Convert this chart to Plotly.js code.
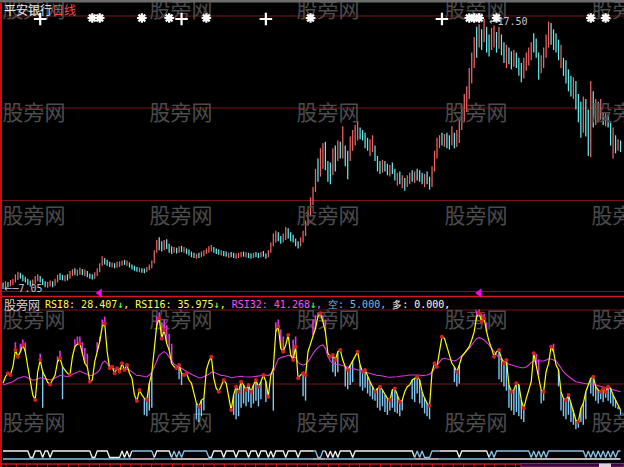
<!DOCTYPE html>
<html><head><meta charset="utf-8">
<script src="https://cdn.plot.ly/plotly-3.0.1.min.js"></script>
<style>html,body{margin:0;padding:0;background:#000;overflow:hidden}#chart{width:624px;height:467px}</style>
</head><body><div id="chart"></div>
<script>
// ---------- data ----------
const lows = [7.05,7.10,7.12,7.15,7.20,7.30,7.40,7.45,7.35,7.30,
 7.20,7.15,7.18,7.25,7.35,7.30,7.20,7.12,7.10,7.15,
 7.12,7.18,7.30,7.40,7.38,7.35,7.38,7.45,7.55,7.58,
 7.55,7.60,7.58,7.55,7.50,7.45,7.42,7.45,7.55,7.70,
 7.95,8.00,7.95,7.90,7.88,7.85,7.88,7.90,7.95,7.98,
 7.95,7.88,7.80,7.75,7.72,7.70,7.68,7.66,7.70,7.78,
 7.85,8.05,8.45,8.55,8.50,8.55,8.60,8.45,8.40,8.45,
 8.42,8.45,8.48,8.45,8.40,8.35,8.28,8.25,8.22,8.25,
 8.28,8.32,8.40,8.45,8.50,8.45,8.40,8.38,8.35,8.32,
 8.30,8.25,8.28,8.25,8.22,8.25,8.28,8.30,8.27,8.25,
 8.22,8.25,8.28,8.25,8.27,8.30,8.22,8.28,8.45,8.70,
 8.85,8.90,8.80,8.85,8.95,9.00,8.90,8.85,8.70,8.62,
 8.70,8.85,9.10,9.50,9.90,10.30,10.80,11.20,11.40,11.70,
 11.65,11.20,11.10,11.45,11.60,12.00,12.10,12.10,11.80,11.30,
 12.00,12.40,12.60,12.80,12.85,12.80,12.50,12.40,12.20,12.35,
 12.00,11.60,11.50,11.55,11.60,11.45,11.40,11.50,11.25,11.05,
 11.10,10.95,10.85,11.00,11.10,11.20,11.15,11.25,11.20,11.10,
 11.00,11.10,10.90,11.00,11.60,12.10,12.50,12.60,12.55,12.50,
 12.45,12.60,12.50,12.55,12.70,13.20,13.50,13.90,14.40,15.00,
 15.60,16.00,16.40,16.30,16.60,16.20,16.05,16.30,16.40,16.20,
 16.35,16.10,15.80,15.60,15.75,15.55,15.65,15.60,15.30,15.05,
 15.20,15.50,15.70,15.90,16.20,16.00,15.15,15.40,15.60,16.00,
 16.40,16.50,16.30,16.20,15.90,15.60,15.30,15.00,14.70,14.50,
 14.40,14.00,13.50,12.90,13.10,12.95,12.20,12.15,13.30,13.40,
 13.50,13.60,13.40,13.35,13.30,12.60,12.10,12.30,12.40,12.35];

const highs = [7.30,7.35,7.32,7.40,7.45,7.62,7.72,7.68,7.60,7.52,
 7.45,7.38,7.42,7.55,7.62,7.55,7.45,7.35,7.32,7.38,
 7.35,7.45,7.60,7.66,7.60,7.58,7.62,7.75,7.82,7.85,
 7.80,7.88,7.82,7.80,7.75,7.65,7.62,7.70,7.85,8.05,
 8.32,8.25,8.18,8.10,8.08,8.05,8.10,8.12,8.15,8.18,
 8.15,8.08,8.00,7.95,7.90,7.88,7.85,7.84,7.90,8.00,
 8.15,8.55,8.95,9.05,8.90,8.95,8.98,8.80,8.70,8.68,
 8.65,8.70,8.72,8.68,8.62,8.58,8.50,8.45,8.42,8.45,
 8.50,8.55,8.62,8.70,8.75,8.68,8.62,8.58,8.55,8.52,
 8.50,8.45,8.48,8.45,8.42,8.45,8.48,8.50,8.47,8.45,
 8.42,8.45,8.48,8.45,8.48,8.52,8.42,8.55,8.85,9.20,
 9.30,9.25,9.10,9.20,9.45,9.40,9.25,9.15,9.00,8.90,
 9.05,9.30,9.70,10.10,10.60,11.00,11.70,12.10,12.50,12.70,
 12.75,12.00,11.95,12.50,12.60,12.80,12.75,13.35,12.60,12.40,
 12.95,13.20,13.40,13.55,13.30,13.20,13.10,12.90,12.85,13.00,
 12.60,12.20,12.00,12.05,12.00,11.90,11.85,11.95,11.70,11.55,
 11.60,11.45,11.35,11.45,11.55,11.65,11.60,11.70,11.65,11.55,
 11.50,11.60,11.40,11.80,12.40,12.90,13.00,13.10,13.05,13.10,
 13.00,13.35,13.10,13.20,13.60,14.20,14.60,14.90,15.60,16.20,
 16.80,17.20,17.30,17.10,17.50,17.20,16.90,17.15,17.25,17.00,
 17.20,16.90,16.60,16.50,16.40,16.25,16.30,16.20,16.00,15.80,
 16.00,16.20,16.40,16.60,16.95,16.75,16.20,16.10,16.40,16.90,
 17.40,17.35,17.10,16.95,16.70,16.50,16.00,15.90,15.55,15.30,
 15.25,15.10,14.60,14.30,14.50,14.40,14.00,15.10,14.70,14.40,
 14.30,14.40,13.90,13.85,13.80,13.50,13.30,13.00,12.85,12.80];

// 1 = rising day (red), 0 = falling day (cyan)
const up = [0,1,0,1,1,1,1,0,0,0, 0,0,1,1,1,0,0,0,1,1, 0,1,1,0,0,1,0,1,1,0,
 1,1,0,1,0,0,0,1,1,1, 1,0,0,0,1,0,1,1,1,0, 1,0,0,0,0,1,0,0,1,1,
 1,1,1,0,0,1,0,0,0,1, 0,1,0,1,0,0,0,0,1,0, 1,1,1,1,1,0,0,0,1,0,
 0,1,0,0,1,1,1,0,1,0, 0,1,0,0,1,0,0,1,1,1, 1,0,0,1,1,0,0,0,0,0,
 1,1,1,1,1,1,1,0,1,1, 0,0,0,1,0,1,0,1,0,0, 1,1,1,1,0,0,0,0,1,1,
 0,0,0,1,0,0,1,0,0,1, 0,1,0,1,1,0,1,0,0,0, 1,0,0,1,1,1,1,0,1,0,
 0,1,0,1,1,1,1,1,1,1, 1,0,1,0,1,0,0,1,1,0, 1,0,0,1,0,0,1,0,0,0,
 1,1,1,1,0,0,0,1,1,1, 1,0,0,0,0,1,0,0,0,0, 1,0,0,0,1,0,0,1,0,1,
 0,1,0,1,0,0,1,0,1,0];

const rsi8 = [47.2,51.8,54.2,53.0,58.8,70.5,65.9,69.4,74.1,69.4,
 58.8,49.5,39.0,35.4,55.3,63.5,55.3,51.8,47.9,46.4,
 49.5,53.0,62.4,64.7,58.8,56.5,54.2,53.0,65.9,72.9,
 74.5,75.2,68.2,61.2,58.8,48.3,49.5,62.4,69.4,76.4,
 87.0,89.3,69.4,57.7,58.8,54.2,57.7,55.3,61.2,56.5,
 60.0,54.2,50.7,39.0,34.7,42.5,39.0,36.6,35.4,47.2,
 54.2,71.7,88.1,92.8,78.7,84.6,75.2,70.5,61.2,58.8,
 57.7,60.0,54.2,53.0,54.2,49.5,47.2,40.1,33.1,30.8,
 35.4,36.6,56.5,62.4,65.9,50.7,43.6,41.3,46.0,49.5,
 47.2,36.6,28.4,39.0,44.8,41.3,48.3,46.0,42.5,46.0,
 41.3,46.0,49.5,44.8,48.3,53.0,48.3,37.8,53.0,57.7,
 83.4,87.0,71.7,69.4,74.1,81.1,67.0,63.5,72.9,50.7,
 53.0,54.2,53.0,69.4,75.2,81.1,85.8,94.0,96.3,90.4,
 83.4,68.2,65.9,67.0,63.5,69.4,70.5,63.5,58.8,56.5,
 60.0,63.5,65.9,69.4,60.0,55.3,56.5,51.8,48.3,44.8,
 41.3,43.6,44.8,42.5,39.0,36.6,35.4,42.5,43.6,39.0,
 34.3,35.4,41.3,44.8,46.0,49.5,50.7,51.8,49.5,41.3,
 36.6,33.1,31.5,55.3,61.2,58.8,69.4,79.9,78.7,72.9,
 67.0,61.2,58.8,55.3,60.0,65.9,68.2,70.5,72.9,77.6,
 83.4,94.0,96.3,90.4,92.8,83.4,76.4,71.7,65.9,69.4,
 70.5,64.7,61.2,63.5,46.0,41.3,42.5,47.2,46.0,35.4,
 29.6,36.6,42.5,48.3,68.2,60.0,53.0,42.5,41.3,55.3,
 61.2,72.9,69.4,60.0,56.5,41.3,36.6,35.4,39.0,33.1,
 28.4,21.4,20.2,29.6,33.1,41.3,46.0,50.7,51.8,44.8,
 42.5,41.3,43.6,41.3,44.8,43.6,39.0,35.4,30.8,28.407];

const rsi32 = [46.0,46.5,47.2,47.9,48.3,49.5,50.7,51.1,51.8,51.8,
 51.1,50.2,49.5,49.5,50.2,51.1,50.7,50.2,49.7,49.5,
 50.0,50.7,51.8,52.6,52.6,52.3,51.8,52.6,53.5,54.5,
 55.3,55.8,54.9,54.2,53.5,52.6,52.6,53.5,54.9,56.5,
 61.2,62.8,61.2,58.8,57.7,57.2,57.2,57.7,57.2,57.2,
 57.2,56.5,55.3,53.5,52.6,52.6,52.1,51.6,51.6,53.0,
 54.9,58.8,63.5,67.0,68.2,69.4,68.2,65.9,62.8,60.5,
 59.5,58.8,57.7,56.5,55.3,54.2,53.5,52.6,51.6,51.1,
 51.1,51.6,52.6,53.5,54.9,54.9,54.0,53.0,52.6,52.6,
 52.3,51.8,51.1,51.4,51.6,51.8,52.1,51.8,51.6,51.6,
 51.6,51.8,52.1,52.1,52.6,53.0,53.0,52.6,53.5,54.9,
 60.0,64.2,65.2,65.6,66.1,67.0,66.5,65.6,65.2,61.9,
 60.5,60.0,60.5,62.4,65.2,68.2,70.5,72.2,73.6,74.1,
 71.7,65.9,62.8,61.2,60.5,60.5,60.0,59.5,58.8,58.1,
 57.7,57.2,56.7,56.3,55.8,55.3,54.9,54.4,54.0,53.5,
 53.0,52.6,52.6,52.1,51.8,51.6,51.4,51.4,51.6,51.8,
 52.1,52.1,52.3,52.6,53.0,53.0,53.5,53.5,53.0,52.6,
 52.6,53.0,53.5,54.9,57.7,60.0,62.4,64.2,64.7,64.2,
 63.5,62.8,62.8,63.5,64.7,66.5,68.2,69.9,71.7,74.1,
 76.4,78.7,79.2,78.7,77.6,75.9,74.1,71.7,69.4,67.0,
 65.2,63.5,62.4,61.2,60.5,60.0,59.5,59.1,58.6,58.1,
 58.1,58.6,60.0,61.9,62.8,62.8,62.4,62.4,62.8,63.5,
 64.2,64.2,63.7,62.8,60.5,57.7,55.3,53.5,51.8,50.7,
 49.5,48.3,47.9,47.4,47.2,46.9,46.9,46.9,46.5,46.0,
 45.5,45.0,44.6,44.1,43.6,43.2,42.7,42.2,41.8,41.268];

// sticks: drawn from RSI8 to this end value (above = magenta, below = blue)
const stickIdx = [5,7,8,9,15,22,23,29,30,31,32,33,34,38,39,40,41,62,63,64,65,66,67,68,110,111,112,113,117,118,125,126,127,129,130,191,192,193,194,195,215,216,222,
 16,24,57,58,59,60,71,72,78,79,80,81,93,94,95,96,97,98,99,100,101,102,103,104,106,109,121,122,133,134,135,138,139,140,141,144,145,146,147,148,149,150,151,152,153,154,155,156,157,158,159,160,161,165,166,167,168,169,170,171,172,182,183,184,200,201,202,203,204,205,206,207,208,209,210,217,218,224,225,226,227,228,229,230,231,232,233,234,235,237,238,239,240,241,242,243,244,245,246,247,248,249];
const stickEnd = [76,75,78,76,68,66,70,78,80,80,76,72,68,76,80,92,94,94,97,90,92,88,82,75,90,92,85,80,78,80,92,95,97,95,92,98,99,96,96,90,68,64,75,
 30,36,25,24,28,30,50,46,22,20,24,28,25,22,24,30,33,31,34,30,33,35,31,36,34,28,38,35,55,52,55,45,43,46,48,45,42,44,40,38,36,35,30,28,31,27,25,28,30,27,26,24,28,36,34,40,33,30,26,24,22,48,45,47,50,48,45,42,30,28,25,27,24,22,20,33,35,45,28,24,22,25,20,18,15,16,20,18,22,40,38,35,33,36,34,37,35,33,31,30,29,25];

// bottom signal line: 1 = up level, 0 = dipped
const sigState = ("1111111111"+"1001110110"+"1111111111"+"1111110011"+"1110000010"+
 "1011111111"+"1011111101"+"0101111111"+"1110011110"+"1111011110"+
 "1110111010"+"1111011110"+"1111111001"+"1010101111"+"1011111111"+
 "1111111111"+"1111110101"+"0001111111"+"1111011111"+"1111110101"+
 "1111111111"+"1110101010"+"1111111111"+"1111101010"+"1010101011").split('').map(Number);
const sigSegStart = [0,52,61,68,83,125,130,166,176,196];
const sigSegColor = ['w','b','w','b','w','b','w','b','w','b'];

const starIdx = [36,39,56,67,82,124,188,190,192,199,237,243];
const plusIdx = [15,72,106,177];
const triIdx = [39,192];

const stockName = '平安银行';
const period = '日线';
const watermark = '股旁网';
const rsi16Last = 35.975;
const kongVal = 5.000;
const duoVal = 0.000;

// ---------- geometry (styling) ----------
const W = 624, H = 467, N = lows.length;
const X0 = 3, DX = 2.48;
const pMin = Math.min(...lows), pMax = Math.max(...highs);
const ppp = (pMax - pMin) / (289 - 19);
const priceAt = py => pMin + (289 - py) * ppp;
const rsiAt = py => 41.3 + (391.67 - py) * 0.702;
const sigAt = py => (457.5 - py) / 6.5;
const xAt = px => (px - X0) / DX;
const yp = py => 1 - py / H;

const traces = [];

// watermarks (below everything)
const wmX = [], wmY = [];
[34,181,328,476,623].forEach(cx => [12,115,218,322,425].forEach(cy => { wmX.push(xAt(cx)); wmY.push(priceAt(cy)); }));
traces.push({type:'scatter', mode:'text', x:wmX, y:wmY, text:wmX.map(()=>watermark),
  textfont:{size:21, color:'#4c4c4c', family:'Noto Sans CJK SC'}, hoverinfo:'skip', xaxis:'x', yaxis:'y'});

// candles as low-high bars
function candleTrace(flag, color){
  const x=[], b=[], h=[];
  for (let i=0;i<N;i++) if (up[i]===flag){ x.push(i); b.push(lows[i]); h.push(highs[i]-lows[i]); }
  return {type:'bar', x, y:h, base:b, width:0.5, marker:{color, line:{width:0}}, hoverinfo:'skip', xaxis:'x', yaxis:'y'};
}
traces.push(candleTrace(1, '#f06464'));
traces.push(candleTrace(0, '#62ecec'));

// signal marks at top
traces.push({type:'scatter', mode:'markers', x:starIdx, y:starIdx.map(()=>priceAt(18)),
  marker:{symbol:'asterisk-open', size:8, color:'#ffffff', line:{color:'#ffffff', width:2.2}}, hoverinfo:'skip', xaxis:'x', yaxis:'y'});
traces.push({type:'scatter', mode:'markers', x:plusIdx, y:plusIdx.map(()=>priceAt(19)),
  marker:{symbol:'cross-thin-open', size:9, color:'#ffffff', line:{color:'#ffffff', width:2.2}}, hoverinfo:'skip', xaxis:'x', yaxis:'y'});
traces.push({type:'scatter', mode:'markers', x:triIdx, y:triIdx.map(()=>priceAt(293)),
  marker:{symbol:'triangle-left', size:8, color:'#ff00ff'}, hoverinfo:'skip', xaxis:'x', yaxis:'y'});

// RSI sticks
const mX=[], mY=[], bX=[], bY=[];
stickIdx.forEach((i,k)=>{
  const a = rsi8[i], e = stickEnd[k];
  if (e > a){ mX.push(i,i,null); mY.push(a,e,null); } else { bX.push(i,i,null); bY.push(a,e,null); }
});
traces.push({type:'scatter', mode:'lines', x:bX, y:bY, line:{color:'#82c8f4', width:1.4}, hoverinfo:'skip', xaxis:'x', yaxis:'y2'});
traces.push({type:'scatter', mode:'lines', x:mX, y:mY, line:{color:'#d838e0', width:1.6}, hoverinfo:'skip', xaxis:'x', yaxis:'y2'});

const idx = rsi8.map((_,i)=>i);
traces.push({type:'scatter', mode:'lines', x:idx, y:rsi32, line:{color:'#d838e0', width:1.1}, hoverinfo:'skip', xaxis:'x', yaxis:'y2'});
traces.push({type:'scatter', mode:'lines', x:idx, y:rsi8, line:{color:'#ffff00', width:1.2}, hoverinfo:'skip', xaxis:'x', yaxis:'y2'});

// red dots at turning points of RSI8
const dX=[], dY=[];
for (let i=1;i<N-1;i++){ if ((rsi8[i]-rsi8[i-1])*(rsi8[i+1]-rsi8[i])<0){ dX.push(i); dY.push(rsi8[i]); } }
traces.push({type:'scatter', mode:'markers', x:dX, y:dY, marker:{color:'#d42020', size:4}, hoverinfo:'skip', xaxis:'x', yaxis:'y2'});

// bottom signal lines
const colW = '#f4f4f4', colB = '#86c4e8';
sigSegStart.forEach((s,k)=>{
  const e = k+1 < sigSegStart.length ? sigSegStart[k+1] : N-1;
  const xs=[], ys=[], base=[];
  for (let i=s;i<=e;i++){ xs.push(i); ys.push(sigState[i]); base.push(-0.23); }
  const c = sigSegColor[k]==='w' ? colW : colB, c2 = sigSegColor[k]==='w' ? colB : colW;
  traces.push({type:'scatter', mode:'lines', x:xs, y:base, line:{color:c2, width:1.3}, hoverinfo:'skip', xaxis:'x', yaxis:'y3'});
  traces.push({type:'scatter', mode:'lines', x:xs, y:ys, line:{color:c, width:1.3}, hoverinfo:'skip', xaxis:'x', yaxis:'y3'});
});

// ---------- layout ----------
const shapes = [];
const hl = (py, color, w, x0=0, x1=1) => shapes.push({type:'line', xref:'paper', yref:'paper', x0, x1, y0:yp(py), y1:yp(py), line:{color, width:w}, layer:'below'});
[16,108,200.5,291.5,310,384].forEach(py => hl(py, '#7a1414', 1));
hl(296.5, '#d81818', 1.6);
hl(464, '#c81818', 1.4, 0, 521/W);
shapes.push({type:'rect', xref:'paper', yref:'paper', x0:0, x1:1, y0:yp(2.5), y1:1, fillcolor:'#6c6c6c', line:{width:0}, layer:'above'});
shapes.push({type:'line', xref:'paper', yref:'paper', x0:1/W, x1:1/W, y0:0, y1:yp(2.5), line:{color:'#c81010', width:2}, layer:'above'});
for (let px=6; px<521; px+=10.4) shapes.push({type:'line', xref:'paper', yref:'paper', x0:px/W, x1:px/W, y0:0, y1:yp(464), line:{color:'#c81818', width:1}, layer:'above'});
shapes.push({type:'rect', xref:'paper', yref:'paper', x0:521/W, x1:1, y0:0, y1:yp(463.5), fillcolor:'#3c0a3c', line:{color:'#8a208a', width:1}, layer:'above'});
shapes.push({type:'rect', xref:'paper', yref:'paper', x0:599/W, x1:611/W, y0:0, y1:yp(463.5), fillcolor:'#e0d0e0', line:{width:0}, layer:'above'});

const maxI = highs.indexOf(pMax), minI = lows.indexOf(pMin);
const mono = 'DejaVu Sans Mono';
const Y = 'color:#ffff54', G = 'color:#40ff40', M = 'color:#ff50ff';
const AR = () => `<b><span style="${G}">↓</span></b>`;
const legendText =
  `<span style="${Y}">RSI8: ${rsi8[N-1].toFixed(3)}</span>${AR()}<span style="${Y}">, RSI16: ${rsi16Last.toFixed(3)}</span>${AR()}<span style="${Y}">, </span>` +
  `<span style="${M}">RSI32: ${rsi32[N-1].toFixed(3)}</span>${AR()}<span style="${M}">, </span>` +
  `<span style="color:#70c0f0">空: ${kongVal.toFixed(3)}, </span><span style="color:#ffffff">多: ${duoVal.toFixed(3)},</span>`;

const annotations = [
  {xref:'paper', yref:'paper', x:2/W, y:yp(9), xanchor:'left', yanchor:'middle', showarrow:false,
   text:`<span style="color:#e8e8e8">${stockName}</span><span style="color:#ff4848">${period}</span>`,
   font:{family:'Noto Sans CJK SC', size:12}},
  {xref:'x', yref:'y', x:maxI+1.0, y:pMax, xanchor:'left', yanchor:'middle', yshift:-2, showarrow:false,
   text:'<span style="font-family:DejaVu Sans">←</span>' + pMax.toFixed(2), font:{family:mono, size:10, color:'#c8c8c8'}},
  {xref:'x', yref:'y', x:minI-0.6, y:pMin, xanchor:'left', yanchor:'middle', yshift:1, showarrow:false,
   text:'<span style="font-family:DejaVu Sans">←─</span>' + pMin.toFixed(2), font:{family:mono, size:10, color:'#c8c8c8'}},
  {xref:'paper', yref:'paper', x:2/W, y:yp(304), xanchor:'left', yanchor:'middle', showarrow:false,
   text:watermark, font:{family:'Noto Sans CJK SC', size:12, color:'#d4d4d4'}},
  {xref:'paper', yref:'paper', x:43/W, y:yp(304), xanchor:'left', yanchor:'middle', showarrow:false,
   text:legendText, font:{family:mono, size:10}}
];

const ax = {visible:false, showgrid:false, zeroline:false, fixedrange:true};
const layout = {
  width:W, height:H, margin:{l:0,r:0,t:0,b:0,pad:0},
  paper_bgcolor:'#000000', plot_bgcolor:'#000000',
  showlegend:false, barmode:'overlay', hovermode:false,
  xaxis:Object.assign({}, ax, {range:[xAt(0), xAt(W)]}),
  yaxis:Object.assign({}, ax, {range:[priceAt(H), priceAt(0)]}),
  yaxis2:Object.assign({}, ax, {overlaying:'y', range:[rsiAt(H), rsiAt(0)]}),
  yaxis3:Object.assign({}, ax, {overlaying:'y', range:[sigAt(H), sigAt(0)]}),
  shapes, annotations
};
Plotly.newPlot('chart', traces, layout, {staticPlot:true, displayModeBar:false});
</script></body></html>
